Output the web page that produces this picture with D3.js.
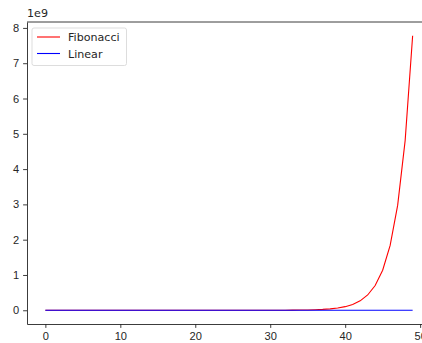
<!DOCTYPE html>
<html>
<head>
<meta charset="utf-8">
<script src="https://cdn.jsdelivr.net/npm/d3@7"></script>
<style>
  body { margin: 0; background: #fff; }
  svg { display: block; font-family: "DejaVu Sans", sans-serif; }
</style>
</head>
<body>
<div id="chart"></div>
<script>
// Datos
const fibonacci = [0, 1, 1, 2, 3, 5, 8, 13, 21, 34, 55, 89, 144, 233, 377, 610, 987, 1597, 2584, 4181,
  6765, 10946, 17711, 28657, 46368, 75025, 121393, 196418, 317811, 514229, 832040, 1346269,
  2178309, 3524578, 5702887, 9227465, 14930352, 24157817, 39088169, 63245986, 102334155,
  165580141, 267914296, 433494437, 701408733, 1134903170, 1836311903, 2971215073,
  4807526976, 7778742049];
const linear = [0, 1, 2, 3, 4, 5, 6, 7, 8, 9, 10, 11, 12, 13, 14, 15, 16, 17, 18, 19, 20, 21, 22, 23, 24,
  25, 26, 27, 28, 29, 30, 31, 32, 33, 34, 35, 36, 37, 38, 39, 40, 41, 42, 43, 44, 45, 46, 47, 48, 49];
const xTicks = [0, 10, 20, 30, 40, 50];
const yTicks = [0, 1, 2, 3, 4, 5, 6, 7, 8];

const width = 422;
const height = 343;
const margin = { top: 22, right: -9, bottom: 19, left: 27 };
const fontSize = 11.1;

const svg = d3.select("#chart")
    .append("svg")
    .attr("width", width)
    .attr("height", height);

const idx = d3.range(fibonacci.length);
const xPad = (idx.length - 1) * 0.05;
const x = d3.scaleLinear()
    .domain([-xPad, idx.length - 1 + xPad])
    .range([margin.left, width - margin.right]);

const yMax = d3.max(fibonacci);
const yPad = yMax * 0.05;
const y = d3.scaleLinear()
    .domain([-yPad, yMax + yPad])
    .range([height - margin.bottom, margin.top]);

// Ejes
const xAxis = svg.append("g")
    .attr("transform", `translate(0,${height - margin.bottom})`)
    .call(d3.axisBottom(x).tickValues(xTicks).tickSize(3.9).tickSizeOuter(0).tickPadding(3.9));

const yAxis = svg.append("g")
    .attr("transform", `translate(${margin.left},0)`)
    .call(d3.axisLeft(y).tickValues(yTicks.map(d => d * 1e9)).tickFormat(d => d / 1e9)
        .tickSize(3.9).tickSizeOuter(0).tickPadding(3.9));

[xAxis, yAxis].forEach(g => {
    g.selectAll("text").attr("font-size", fontSize).attr("fill", "#262626");
    g.selectAll("line").attr("stroke", "#262626").attr("stroke-width", 0.9);
    g.select(".domain").attr("stroke", "#262626").attr("stroke-width", 0.9);
});

// Borde superior
svg.append("line")
    .attr("x1", margin.left).attr("x2", width)
    .attr("y1", margin.top).attr("y2", margin.top)
    .attr("stroke", "#262626").attr("stroke-width", 0.9);

svg.append("text")
    .attr("x", margin.left)
    .attr("y", margin.top - 5)
    .attr("font-size", fontSize)
    .attr("fill", "#262626")
    .text("1e9");

// Lineas
const line = d3.line().x((d, i) => x(i)).y(d => y(d));

svg.append("path")
    .datum(fibonacci)
    .attr("fill", "none")
    .attr("stroke", "red")
    .attr("stroke-width", 1.1)
    .attr("d", line);

svg.append("path")
    .datum(linear)
    .attr("fill", "none")
    .attr("stroke", "blue")
    .attr("stroke-width", 1.1)
    .attr("d", line);

// Leyenda
const legend = svg.append("g").attr("transform", "translate(32,28)");
legend.append("rect")
    .attr("width", 94.5).attr("height", 37.5)
    .attr("rx", 2)
    .attr("fill", "white").attr("fill-opacity", 0.8)
    .attr("stroke", "#d9d9d9").attr("stroke-width", 0.9);

[{ name: "Fibonacci", color: "red" }, { name: "Linear", color: "blue" }].forEach((item, i) => {
    const yy = 9 + i * 16.5;
    legend.append("line")
        .attr("x1", 5).attr("x2", 28)
        .attr("y1", yy).attr("y2", yy)
        .attr("stroke", item.color).attr("stroke-width", 1.1);
    legend.append("text")
        .attr("x", 36).attr("y", yy + 4)
        .attr("font-size", fontSize)
        .attr("fill", "#262626")
        .text(item.name);
});
</script>
</body>
</html>
